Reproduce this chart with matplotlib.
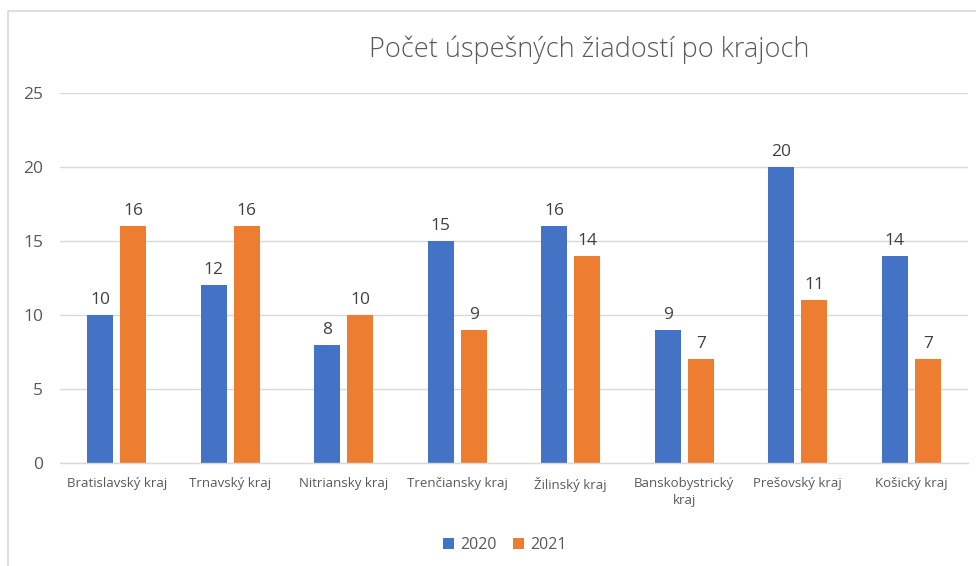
import matplotlib
matplotlib.use("Agg")
import matplotlib.pyplot as plt
import numpy as np
from matplotlib.patches import Rectangle

categories = ["Bratislavský kraj", "Trnavský kraj", "Nitriansky kraj", "Trenčiansky kraj",
              "Žilinský kraj", "Banskobystrický\nkraj", "Prešovský kraj", "Košický kraj"]
series_names = ["2020", "2021"]
values_2020 = [10, 12, 8, 15, 16, 9, 20, 14]
values_2021 = [16, 16, 10, 9, 14, 7, 11, 7]
yticks = [0, 5, 10, 15, 20, 25]
title = "Počet úspešných žiadostí po krajoch"

colors = ["#4472C4", "#ED7D31"]

plt.rcParams['font.family'] = ['Open Sans', 'DejaVu Sans']

W, H = 976, 566
fig = plt.figure(figsize=(W / 100, H / 100), dpi=100)
fig.patch.set_facecolor("white")

# chart border (partially cropped)
fig.add_artist(Rectangle((8 / W, -0.1), 1.2, (H - 11) / H + 0.1, transform=fig.transFigure,
                         fill=False, edgecolor="#D9D9D9", linewidth=1.2))

left, right = 60 / W, 968 / W
bottom, top = 1 - 463 / H, 1 - 93 / H
ax = fig.add_axes([left, bottom, right - left, top - bottom])

x = np.arange(len(categories))
bw = 0.23
off = 0.145
b1 = ax.bar(x - off, values_2020, bw, color=colors[0], label=series_names[0], zorder=3)
b2 = ax.bar(x + off, values_2021, bw, color=colors[1], label=series_names[1], zorder=3)

for bars in (b1, b2):
    for r in bars:
        ax.annotate(f"{int(r.get_height())}", (r.get_x() + r.get_width() / 2, r.get_height()),
                    xytext=(0, 5), textcoords="offset points", ha="center", va="bottom",
                    fontsize=12.5, color="#404040")

ax.set_xlim(-0.5, len(categories) - 0.5)
ax.set_ylim(0, 25)
ax.set_yticks(yticks)
ax.set_yticklabels([str(t) for t in yticks], fontsize=12.5, color="#595959")
ax.set_xticks(x)
ax.set_xticklabels(categories, fontsize=9.5, color="#595959", linespacing=1.45)
ax.tick_params(axis="both", length=0)
ax.tick_params(axis="y", pad=12)
ax.tick_params(axis="x", pad=10)
ax.grid(axis="y", color="#D9D9D9", linewidth=1, zorder=0)
for s in ["top", "right", "left"]:
    ax.spines[s].set_visible(False)
ax.spines["bottom"].set_color("#D9D9D9")
ax.spines["bottom"].set_linewidth(1)
ax.spines["bottom"].set_zorder(4)

fig.text(589 / W, 1 - 50 / H, title, ha="center", va="center", fontsize=19.5,
         color="#595959", fontweight="light")

leg = fig.legend(handles=[b1, b2], labels=series_names, loc="center",
                 bbox_to_anchor=(505 / W, 1 - 545 / H), ncol=2, frameon=False,
                 fontsize=11.5, handlelength=0.7, handleheight=0.7, columnspacing=1.0,
                 handletextpad=0.4)
for t in leg.get_texts():
    t.set_color("#595959")

fig.savefig("out.png", dpi=100, facecolor="white")
